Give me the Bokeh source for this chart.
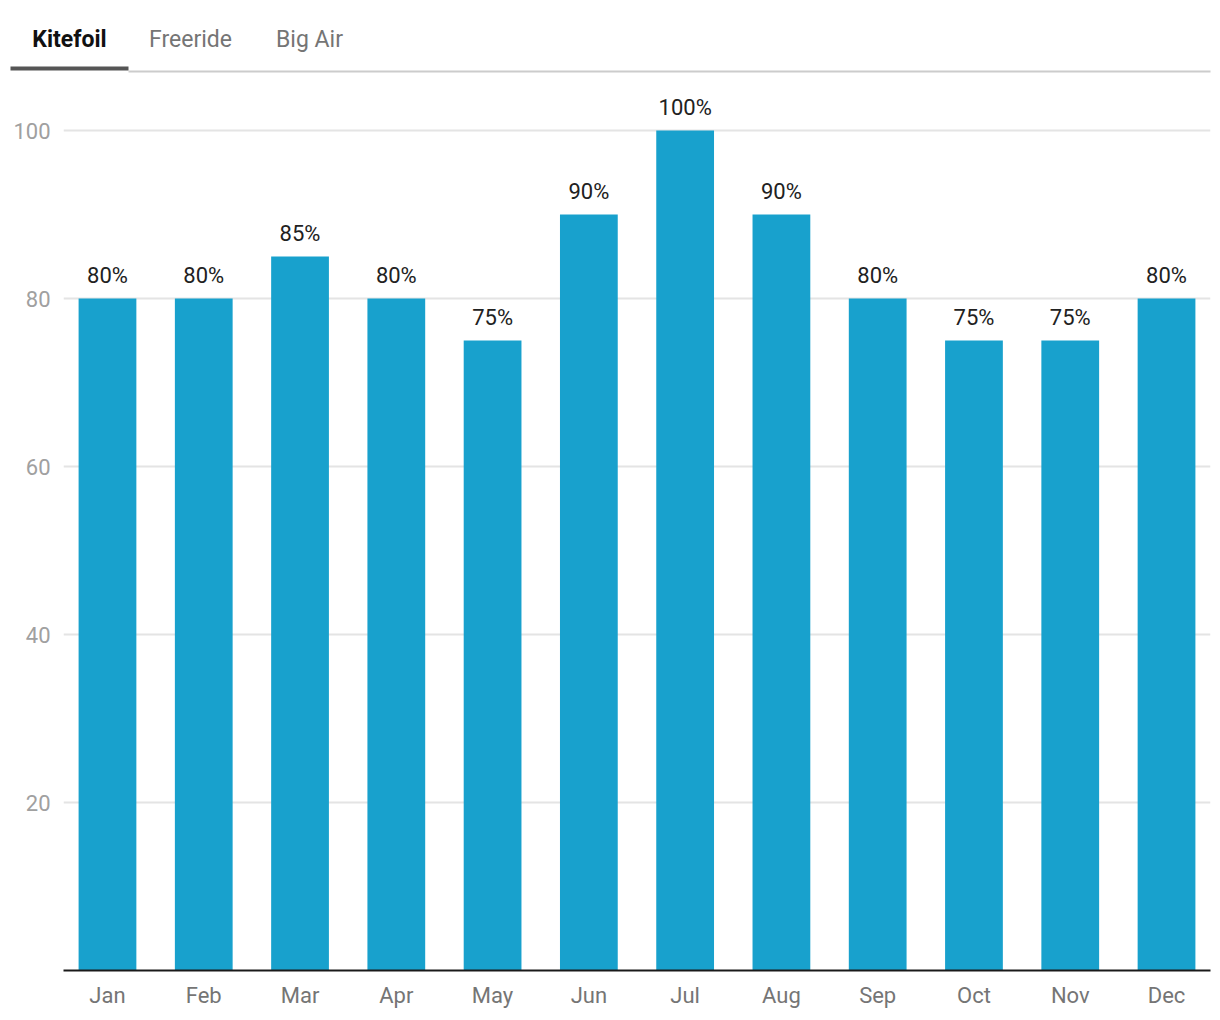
from bokeh.plotting import figure
from bokeh.models import Range1d, FactorRange, ColumnDataSource, FixedTicker
from bokeh.layouts import column
from bokeh.core.properties import value
from bokeh.embed import file_html
from bokeh.resources import INLINE

# ---- data ----
months = ["Jan", "Feb", "Mar", "Apr", "May", "Jun", "Jul", "Aug", "Sep", "Oct", "Nov", "Dec"]
kitefoil = [80, 80, 85, 80, 75, 90, 100, 90, 80, 75, 75, 80]
tabs = ["Kitefoil", "Freeride", "Big Air"]
y_ticks = [20, 40, 60, 80, 100]

FONT = "Roboto"
BAR = "#18a1cd"
W = 1216
TH = 88

# ---- tabs strip ----
t = figure(width=W, height=TH, x_range=Range1d(0, W), y_range=Range1d(TH, 0),
           output_backend="svg", toolbar_location=None, min_border=0,
           x_axis_location=None, y_axis_location=None, outline_line_color=None)
t.grid.visible = False
tab_src = ColumnDataSource(dict(x=[69, 190, 309], y=[39, 39, 39], text=tabs,
                                color=["#111111", "#757575", "#757575"],
                                style=["bold", "normal", "normal"]))
t.text(x="x", y="y", text="text", source=tab_src, text_color="color",
       text_font_style="style", text_font=value(FONT), text_font_size="23px",
       text_align="center", text_baseline="alphabetic")
t.quad(left=[128], right=[1210], top=[70], bottom=[72], fill_color="#cccccc", line_color=None)
t.quad(left=[10], right=[128], top=[66], bottom=[70], fill_color="#555555", line_color=None)

# ---- bar chart ----
src = ColumnDataSource(dict(m=months, v=kitefoil, lab=[f"{v}%" for v in kitefoil]))
p = figure(width=W, height=1016 - TH, x_range=FactorRange(factors=months, range_padding=-0.0072),
           y_range=Range1d(0, 105), output_backend="svg", toolbar_location=None,
           min_border_left=63, min_border_right=6, min_border_top=0, min_border_bottom=46,
           outline_line_color=None)
p.vbar(x="m", top="v", width=0.6, source=src, fill_color=BAR, line_color=None)
p.text(x="m", y="v", text="lab", source=src, text_align="center", text_baseline="alphabetic",
       y_offset=-23, text_font=value(FONT), text_font_size="22px", text_color="#212121")

p.xgrid.visible = False
p.ygrid.ticker = FixedTicker(ticks=y_ticks)
p.ygrid.grid_line_color = "#e4e4e4"
p.ygrid.grid_line_width = 2

p.yaxis.ticker = FixedTicker(ticks=y_ticks)
p.yaxis.axis_line_color = None
p.yaxis.major_tick_line_color = None
p.yaxis.minor_tick_line_color = None
p.yaxis.major_tick_out = 0
p.yaxis.major_tick_in = 0
p.yaxis.major_label_standoff = 13
p.yaxis.major_label_text_font = FONT
p.yaxis.major_label_text_font_size = "22px"
p.yaxis.major_label_text_color = "#a0a0a0"

p.xaxis.axis_line_color = "#1a1a1a"
p.xaxis.axis_line_width = 2
p.xaxis.major_tick_line_color = None
p.xaxis.minor_tick_line_color = None
p.xaxis.major_tick_out = 0
p.xaxis.major_tick_in = 0
p.xaxis.major_label_standoff = 12
p.xaxis.major_label_text_font = FONT
p.xaxis.major_label_text_font_size = "22px"
p.xaxis.major_label_text_color = "#757575"

for fig in (t, p):
    try:
        fig.frame_align = False
    except Exception:
        pass

layout = column(t, p, spacing=0)
open("out.html", "w").write(file_html(layout, INLINE))
